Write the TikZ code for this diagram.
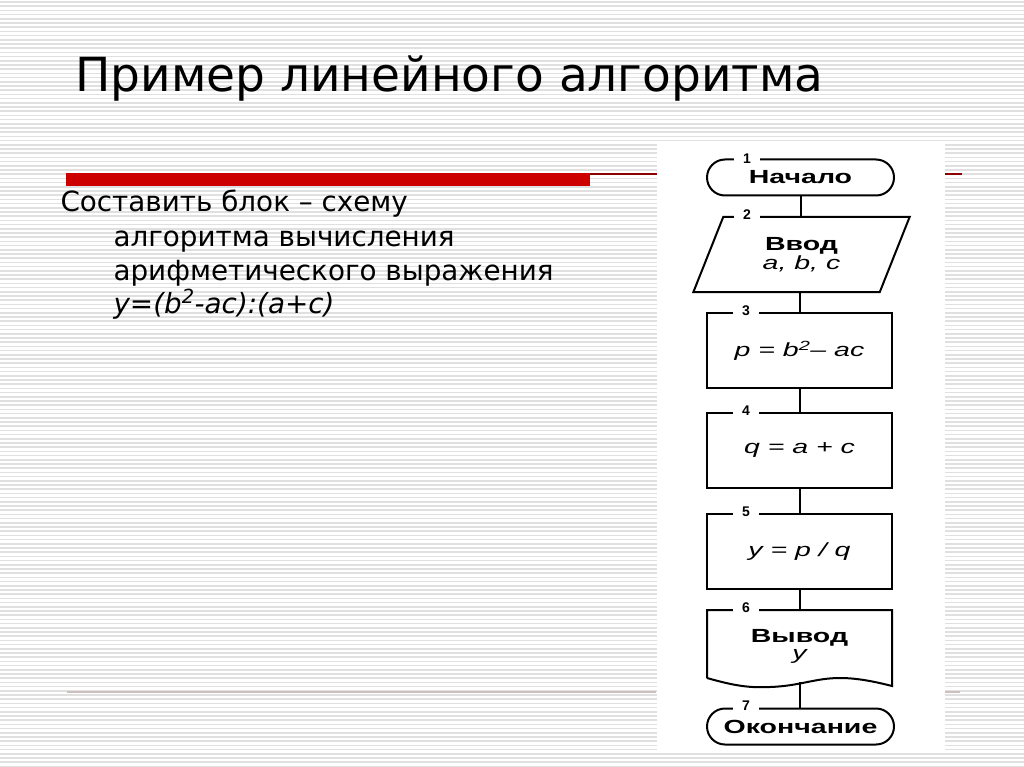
\documentclass[tikz,border=0pt]{standalone}
\usepackage{fontspec}
\setmainfont{DejaVu Sans}
\newfontfamily\fcfont[FakeStretch=1.5]{Liberation Sans}
\newfontfamily\numfont{Liberation Sans}
\usetikzlibrary{shapes.misc}
\newcommand\fvar[1]{{\mdseries\itshape #1}}
\begin{document}
\begin{tikzpicture}[x=1pt,y=-1pt,
  stripe/.style={draw=black!12,line width=1.5pt},
  fcline/.style={line width=2pt,black},
  fctext/.style={font=\fcfont\bfseries\fontsize{19}{17}\selectfont,align=center},
  blk/.style={fcline,draw,fctext,minimum width=185pt,minimum height=75pt,inner sep=0pt},
  term/.style={fcline,draw,fctext,rounded rectangle,minimum width=187pt,minimum height=36pt,inner sep=0pt},
  plain/.style={fctext,minimum width=186pt,minimum height=75pt,inner sep=0pt},
  num/.style={fill=white,inner xsep=9pt,inner ysep=0.5pt,font=\numfont\bfseries\fontsize{14}{14}\selectfont},
  body/.style={anchor=base west,font=\fontsize{27.8}{32}\selectfont},
]
\useasboundingbox (0,0) rectangle (1024,767);
\fill[white] (0,0) rectangle (1024,767);
% background stripes
\foreach \k in {0,...,182} {
  \draw[stripe] (0,{2+\k*4.2}) -- (1024,{2+\k*4.2});
}
% white panel of the flowchart
\fill[white] (657,142) rectangle (945,751);
% red bar and thin lines
\fill[red!80!black] (66,173) rectangle (590,186);
\draw[red!55!black,line width=1.2pt] (590,174) -- (657,174);
\draw[red!55!black,line width=1.4pt] (945,174) -- (962,174);
\draw[red!20!black!25,line width=1.5pt] (67,692) -- (656,692);
\draw[red!20!black!25,line width=1.5pt] (945,692) -- (960,692);

% title
\node[anchor=base west,font=\fontsize{47}{56}\selectfont] (title) at (72,92) {Пример линейного алгоритма};

% task text
\node[body] (t1) at (57,212) {Составить блок – схему};
\node[body] (t2) at (110,246) {алгоритма вычисления};
\node[body] (t3) at (110,280) {арифметического выражения};
\node[body] (t4) at (110,313) {\itshape y=(b\textsuperscript{2}-ac):(a+c)};

% flowchart
\node[term] (start) at (800.5,177.5) {Начало};
\node[plain] (in) at (801.5,254.5) {Ввод\\\fvar{a, b, c}};
\draw[fcline] ([xshift=15pt]in.north west) -- ([xshift=15pt]in.north east)
  -- ([xshift=-15pt]in.south east) -- ([xshift=-15pt]in.south west) -- cycle;
\node[blk] (p) at (799.5,350.5) {\fvar{p = b\textsuperscript{2}– ac}};
\node[blk] (q) at (799.5,450) {\fvar{q = a + c}};
\node[blk] (y) at (799.5,551.5) {\fvar{y = p / q}};
\node[fctext,minimum width=185pt,minimum height=72pt,inner sep=0pt] (out) at (799.5,646) {Вывод\\\fvar{y}};
\draw[fcline] (707,678) -- (707,610) -- (892,610) -- (892,686)
  .. controls (880,683) and (860,678) .. (840,678)
  .. controls (815,678) and (800,686) .. (770,687)
  .. controls (750,688) and (735,686) .. (707,678);
\node[term] (stop) at (800.5,726.5) {Окончание};

% connectors
\draw[fcline] (start.south) -- (start.south |- in.north);
\draw[fcline] (p.north |- in.south) -- (p.north);
\draw[fcline] (p.south) -- (q.north);
\draw[fcline] (q.south) -- (y.north);
\draw[fcline] (y.south) -- (out.north);
\draw[fcline] (out.south) -- (out.south |- stop.north);

% block numbers
\node[num] (n1) at (747,159) {1};
\node[num] (n2) at (747,215) {2};
\node[num] (n3) at (746,311) {3};
\node[num] (n4) at (746,411) {4};
\node[num] (n5) at (746,512) {5};
\node[num] (n6) at (746,608) {6};
\node[num] (n7) at (746,706) {7};
\end{tikzpicture}
\end{document}
